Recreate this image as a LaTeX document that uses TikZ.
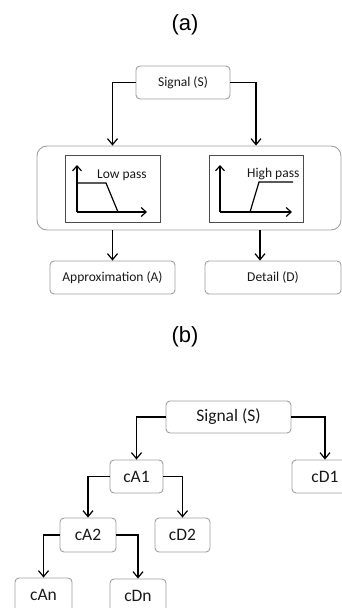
\documentclass[tikz,border=0pt]{standalone}
\usepackage{fontspec}
\setmainfont{Carlito}
\newfontfamily\labelfont{Liberation Sans}
\usetikzlibrary{arrows.meta}
\tikzset{
    box/.style={
        rectangle, rounded corners=4pt,
        draw=gray!75, line width=0.9pt,
        text=black!90, inner sep=0pt,
        font=\fontsize{13.5}{16}\selectfont
    },
    bigbox/.style={
        box, font=\fontsize{17.5}{20}\selectfont
    },
    filterbox/.style={
        rectangle, draw=black!70, line width=0.7pt, inner sep=0pt
    },
    partlabel/.style={font=\labelfont\fontsize{22}{24}\selectfont},
    arrow/.style={-{Straight Barb[length=6pt,width=10pt,line width=1.2pt]}, line width=1.4pt},
    axis/.style={-{Straight Barb[length=5pt,width=9pt,line width=1.2pt]}, line width=1.6pt},
    curve/.style={line width=1.2pt}
}

\begin{document}
\begin{tikzpicture}[x=1pt,y=-1pt]
    \clip (0,0) rectangle (342,608);

    % (a) one level of the filter bank
    \node[partlabel] (lbla) at (185,25) {(a)};
    \node[box, minimum width=94pt, minimum height=33pt] (sigA) at (183,82.5) {Signal (S)};
    \node[box, rounded corners=10pt, minimum width=304pt, minimum height=84pt] (bank) at (189,188) {};
    \node[filterbox, minimum width=95pt, minimum height=67pt] (lowp) at (112.5,188.5) {};
    \node[filterbox, minimum width=94pt, minimum height=67pt] (highp) at (256,188.5) {};
    \node[box, minimum width=125pt, minimum height=33pt] (approx) at (112.5,277.5) {Approximation (A)};
    \node[box, minimum width=136pt, minimum height=33pt] (detail) at (273,277.5) {Detail (D)};

    \draw[arrow] (sigA.west) -| (bank.north -| lowp.north);
    \draw[arrow] (sigA.east) -| (bank.north -| highp.north);
    \draw[arrow] (bank.south -| lowp.south) -- (approx.north -| lowp.south);
    \draw[arrow] ([xshift=4pt]bank.south -| highp.south) -- ([xshift=4pt]detail.north -| highp.south);

    % low pass response
    \draw[axis] (77,212) -- (77,165);
    \draw[axis] (77,212) -- (147,212);
    \draw[curve] (77,183) -- (106,183) -- (118,212);
    \node[anchor=west, inner sep=0pt, text=black!90, font=\fontsize{13.5}{16}\selectfont] (lowlbl) at (97,175) {Low pass};

    % high pass response
    \draw[axis] (220,212) -- (220,165);
    \draw[axis] (220,212) -- (292,212);
    \draw[curve] (250,212) -- (259,182) -- (293,182);
    \node[anchor=west, inner sep=0pt, text=black!90, font=\fontsize{13.5}{16}\selectfont] (highlbl) at (247,174) {High pass};

    % (b) multilevel decomposition
    \node[partlabel] (lblb) at (185,337) {(b)};
    \node[bigbox, minimum width=125pt, minimum height=32pt] (sigB) at (228.5,417) {Signal (S)};
    \node[bigbox, minimum width=53pt, minimum height=33pt] (cA1) at (136.5,476.5) {cA1};
    \node[bigbox, minimum width=66pt, minimum height=33pt] (cD1) at (325,476.5) {cD1};
    \node[bigbox, minimum width=56pt, minimum height=34pt] (cA2) at (88,535) {cA2};
    \node[bigbox, minimum width=55pt, minimum height=34pt] (cD2) at (182.5,535) {cD2};
    \node[bigbox, minimum width=57pt, minimum height=34pt] (cAn) at (43.5,595) {cAn};
    \node[bigbox, minimum width=56pt, minimum height=34pt] (cDn) at (138,596) {cDn};

    \draw[arrow] (sigB.west) -| (cA1.north);
    \draw[arrow] (sigB.east) -| (cD1.north);
    \draw[arrow] (cA1.west) -| (cA2.north);
    \draw[arrow] (cA1.east) -| (cD2.north);
    \draw[arrow] (cA2.west) -| (cAn.north);
    \draw[arrow] (cA2.east) -| (cDn.north);
\end{tikzpicture}
\end{document}
